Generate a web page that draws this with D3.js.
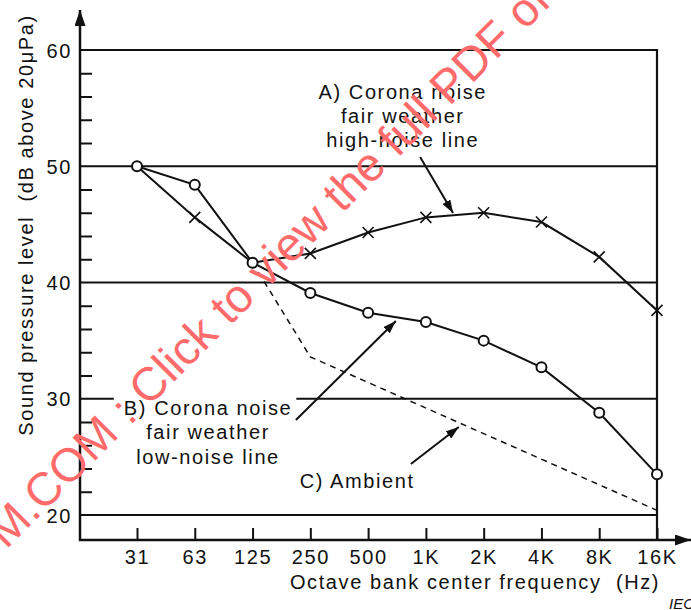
<!DOCTYPE html>
<html>
<head>
<meta charset="utf-8">
<script src="https://cdn.jsdelivr.net/npm/d3@7"></script>
<style>
  html, body { margin: 0; padding: 0; background: #fff; }
  svg { display: block; font-family: "Liberation Sans", Arial, sans-serif; }
  .lbl { font-size: 20px; letter-spacing: 1.6px; fill: #111; }
</style>
</head>
<body>
<svg id="chart" width="691" height="610"></svg>
<script>
// Octave bands and sound pressure levels (dB above 20 µPa)
const bands = ["31", "63", "125", "250", "500", "1K", "2K", "4K", "8K", "16K"];
const highNoise = [50, 45.6, 41.7, 42.5, 44.3, 45.6, 46.0, 45.2, 42.2, 37.6];
const lowNoise  = [50, 48.4, 41.7, 39.1, 37.4, 36.6, 35.0, 32.7, 28.8, 23.5];
const ambient   = [null, null, 41.7, 33.6, null, null, null, null, null, 20.4];
const yMajor = [20, 30, 40, 50, 60];
const yMinor = [22, 24, 26, 28, 32, 34, 36, 38, 42, 44, 46, 48, 52, 54, 56, 58];

// Callouts, placed in (band index, dB) space
const notes = [
  { lines: ["A) Corona noise", "fair weather", "high-noise line"], at: [4.60, 55.8], from: [4.90, 50.8], to: [5.47, 45.98], box: false },
  { lines: ["B) Corona noise", "fair weather", "low-noise line"],  at: [1.23, 28.6], from: [2.75, 28.17], to: [4.48, 36.69], box: true },
  { lines: ["C) Ambient"], at: [3.81, 22.32], from: [4.74, 24.39], to: [5.57, 27.57], box: false }
];

const svg = d3.select("#chart");
const left = 80, bottom = 540, topTip = 10, rightTip = 691;

const x = d3.scaleLinear().domain([0, bands.length - 1]).range([137, 657]);
const y = d3.scaleLinear().domain([20, 60]).range([515, 50]);

// Arrowheads
const defs = svg.append("defs");
function arrowMarker(id, len, half) {
  defs.append("marker")
    .attr("id", id)
    .attr("viewBox", `0 0 ${len} ${half * 2}`)
    .attr("refX", len).attr("refY", half)
    .attr("markerWidth", len).attr("markerHeight", half * 2)
    .attr("markerUnits", "userSpaceOnUse")
    .attr("orient", "auto")
    .append("path")
    .attr("d", `M0,0L${len},${half}L0,${half * 2}Z`)
    .attr("fill", "#111");
}
arrowMarker("axisHead", 16, 5.5);
arrowMarker("noteHead", 13, 4.5);

// Horizontal grid lines at the major levels
svg.append("g").selectAll("line").data(yMajor).join("line")
  .attr("x1", left).attr("x2", x(bands.length - 1))
  .attr("y1", d => y(d)).attr("y2", d => y(d))
  .attr("stroke", "#111").attr("stroke-width", 2.2);

// Right frame edge
svg.append("line")
  .attr("x1", x(bands.length - 1)).attr("x2", x(bands.length - 1))
  .attr("y1", y(60) - 1).attr("y2", bottom)
  .attr("stroke", "#111").attr("stroke-width", 2.2);

// Minor ticks on the inside of the level axis
const minorAxis = d3.axisRight(y).tickValues(yMinor).tickSize(12).tickFormat("");
svg.append("g").attr("transform", `translate(${left},0)`).call(minorAxis)
  .call(g => g.select(".domain").remove())
  .call(g => g.selectAll(".tick line").attr("stroke", "#111").attr("stroke-width", 2));

// Level labels
const yAxis = d3.axisLeft(y).tickValues(yMajor).tickSize(0).tickPadding(8);
svg.append("g").attr("transform", `translate(${left},0)`).call(yAxis)
  .call(g => g.select(".domain").remove())
  .call(g => g.selectAll(".tick text").attr("class", "lbl").attr("font-family", null).attr("font-size", null).attr("dy", "0.35em"));

// Frequency axis ticks and labels
const xAxis = d3.axisBottom(x).tickValues(d3.range(bands.length))
  .tickFormat(i => bands[i]).tickSize(-12).tickSizeOuter(0).tickPadding(10);
svg.append("g").attr("transform", `translate(0,${bottom})`).call(xAxis)
  .call(g => g.select(".domain").remove())
  .call(g => g.selectAll(".tick line").attr("stroke", "#111").attr("stroke-width", 2))
  .call(g => g.selectAll(".tick text").attr("class", "lbl").attr("font-family", null).attr("font-size", null));

// Axis lines with arrows
svg.append("line").attr("x1", left).attr("y1", bottom + 1).attr("x2", left).attr("y2", topTip)
  .attr("stroke", "#111").attr("stroke-width", 2.5).attr("marker-end", "url(#axisHead)");
svg.append("line").attr("x1", left - 1).attr("y1", bottom).attr("x2", rightTip).attr("y2", bottom)
  .attr("stroke", "#111").attr("stroke-width", 2.5).attr("marker-end", "url(#axisHead)");

// Axis titles (double gaps kept with non-breaking spaces)
svg.append("text").attr("class", "lbl")
  .attr("transform", `translate(33,225) rotate(-90)`)
  .attr("text-anchor", "middle")
  .text("Sound pressure level \u00A0(dB above 20\u03BCPa)");
svg.append("text").attr("class", "lbl")
  .attr("x", 475).attr("y", bottom + 49)
  .attr("text-anchor", "middle")
  .text("Octave bank center frequency \u00A0(Hz)");

// Series lines
const line = d3.line().defined(d => d != null).x((d, i) => x(i)).y(d => y(d));
const lineGap = d3.line().x(d => x(d[0])).y(d => y(d[1]));

svg.append("path").datum(highNoise).attr("d", line)
  .attr("fill", "none").attr("stroke", "#111").attr("stroke-width", 2);
svg.append("path").datum(lowNoise).attr("d", line)
  .attr("fill", "none").attr("stroke", "#111").attr("stroke-width", 2);
svg.append("path")
  .datum(ambient.map((v, i) => [i, v]).filter(d => d[1] != null))
  .attr("d", lineGap)
  .attr("fill", "none").attr("stroke", "#111").attr("stroke-width", 1.5)
  .attr("stroke-dasharray", "6,5");

// Markers: crosses on the high-noise line (except shared points), circles on the low-noise line
const crossIdx = highNoise.map((v, i) => i).filter(i => i !== 0 && i !== 2);
svg.append("g").selectAll("path").data(crossIdx).join("path")
  .attr("d", i => {
    const cx = x(i), cy = y(highNoise[i]), s = 5.5;
    return `M${cx - s},${cy - s}L${cx + s},${cy + s}M${cx - s},${cy + s}L${cx + s},${cy - s}`;
  })
  .attr("stroke", "#111").attr("stroke-width", 1.6).attr("fill", "none");
svg.append("g").selectAll("circle").data(lowNoise).join("circle")
  .attr("cx", (d, i) => x(i)).attr("cy", d => y(d)).attr("r", 5)
  .attr("fill", "#fff").attr("stroke", "#111").attr("stroke-width", 2);

// Callouts
notes.forEach(n => {
  const g = svg.append("g");
  const t = g.append("text").attr("class", "lbl").attr("text-anchor", "middle")
    .attr("x", x(n.at[0])).attr("y", y(n.at[1]));
  n.lines.forEach((s, k) => {
    t.append("tspan").attr("x", x(n.at[0])).attr("dy", k === 0 ? 0 : "1.215em").text(s);
  });
  if (n.box) {
    const b = t.node().getBBox();
    g.insert("rect", "text")
      .attr("x", b.x - 10).attr("y", b.y - 3)
      .attr("width", b.width + 14).attr("height", b.height + 6)
      .attr("fill", "#fff");
  }
  g.append("line")
    .attr("x1", x(n.from[0])).attr("y1", y(n.from[1]))
    .attr("x2", x(n.to[0])).attr("y2", y(n.to[1]))
    .attr("stroke", "#111").attr("stroke-width", 2)
    .attr("marker-end", "url(#noteHead)");
});

// Figure reference
svg.append("text").attr("x", 669).attr("y", 609)
  .attr("font-size", 15).attr("font-style", "italic").attr("fill", "#111")
  .text("IEC");

// Diagonal stamp across the figure
svg.append("text")
  .attr("transform", "translate(6,550) rotate(-45)")
  .attr("font-size", 47).attr("fill", "#ff6b6b")
  .text("M.COM : Click to view the full PDF of");
</script>
</body>
</html>
